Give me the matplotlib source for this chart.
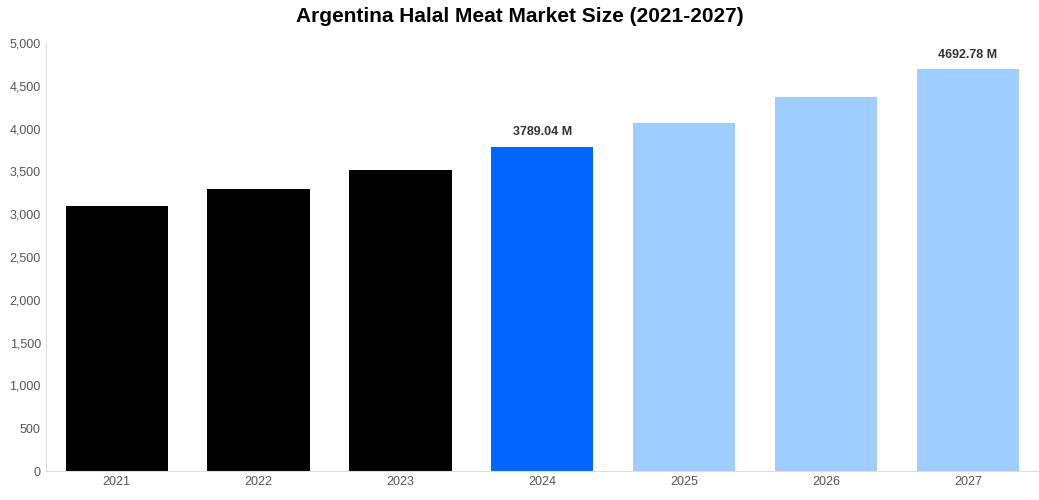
import matplotlib
matplotlib.use("Agg")
import matplotlib.pyplot as plt

years = ["2021", "2022", "2023", "2024", "2025", "2026", "2027"]
values = [3096, 3294, 3516, 3789.04, 4065, 4369, 4692.78]
colors = ["#000000", "#000000", "#000000", "#0066ff", "#a0cdff", "#a0cdff", "#a0cdff"]
labels = {3: "3789.04 M", 6: "4692.78 M"}

fig = plt.figure(figsize=(10.39, 5.0), dpi=100)
ax = fig.add_axes([0.044, 0.058, 0.956, 0.856])
x = range(len(years))
ax.bar(x, values, width=0.72, color=colors)
for i, t in labels.items():
    ax.text(i, values[i] + 100, t, ha="center", va="bottom", fontsize=9, fontweight="bold", color="#333333", family="Liberation Sans")
ax.set_xlim(-0.5, 6.5)
ax.set_ylim(0, 5000)
ax.set_yticks(range(0, 5001, 500))
ax.set_yticklabels([f"{v:,}" for v in range(0, 5001, 500)], family="Liberation Sans")
ax.set_xticks(list(x))
ax.set_xticklabels(years, family="Liberation Sans")
ax.tick_params(colors="#555555", labelsize=9, length=0)
for s in ["top", "right"]:
    ax.spines[s].set_visible(False)
for s in ["left", "bottom"]:
    ax.spines[s].set_color("#dddddd")
fig.suptitle("Argentina Halal Meat Market Size (2021-2027)", y=0.985, fontsize=15, fontweight="bold", family="Liberation Sans")
fig.savefig("out.png", dpi=100)
